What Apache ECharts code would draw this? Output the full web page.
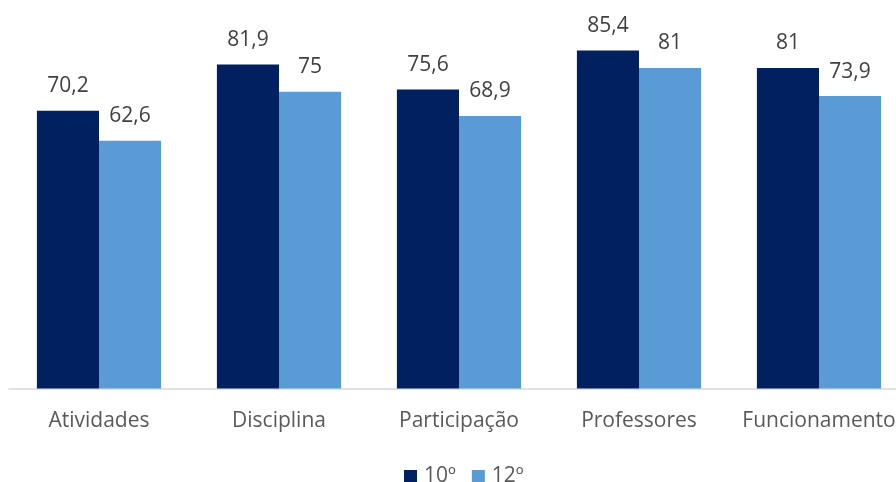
<!DOCTYPE html>
<html>
<head>
<meta charset="utf-8">
<script src="https://cdn.jsdelivr.net/npm/echarts@6/dist/echarts.min.js"></script>
<style>html,body{margin:0;padding:0;background:#fff;overflow:hidden}#c{width:896px;height:482px}</style>
</head>
<body>
<div id="c"></div>
<script>
var categories = ['Atividades', 'Disciplina', 'Participação', 'Professores', 'Funcionamento'];
var series10 = [70.2, 81.9, 75.6, 85.4, 81];
var series12 = [62.6, 75, 68.9, 81, 73.9];
var seriesNames = ['10º', '12º'];

var FONT = '"Open Sans", "Noto Sans", sans-serif';
var chart = echarts.init(document.getElementById('c'));
function fmt(p){ return String(p.value).replace('.', ','); }
chart.setOption({
  animation: false,
  textStyle: { fontFamily: FONT },
  grid: { left: 9, width: 900, top: 32.4, bottom: 93.5, containLabel: false, outerBoundsMode: 'none' },
  legend: {
    bottom: -10, left: 399,
    itemWidth: 13, itemHeight: 13, itemGap: 16,
    icon: 'rect',
    textStyle: { fontSize: 21, color: '#595959', fontFamily: FONT, padding: [0, 0, 0, 2] },
    data: seriesNames
  },
  xAxis: {
    type: 'category', data: categories,
    axisLine: { lineStyle: { color: '#d9d9d9', width: 1.5 } },
    axisTick: { show: false },
    axisLabel: { fontSize: 21, color: '#595959', margin: 22, interval: 0, fontFamily: FONT }
  },
  yAxis: { type: 'value', min: 0, max: 90, show: false, splitLine: { show: false } },
  series: [
    { name: seriesNames[0], type: 'bar', data: series10, barGap: '0%', barCategoryGap: '31%',
      itemStyle: { color: '#002060' },
      label: { show: true, position: 'top', distance: 14, fontSize: 21, color: '#404040', formatter: fmt, fontFamily: FONT } },
    { name: seriesNames[1], type: 'bar', data: series12, barGap: '0%', barCategoryGap: '31%',
      itemStyle: { color: '#5b9bd5' },
      label: { show: true, position: 'top', distance: 14, fontSize: 21, color: '#404040', formatter: fmt, fontFamily: FONT } }
  ]
});
</script>
</body>
</html>
